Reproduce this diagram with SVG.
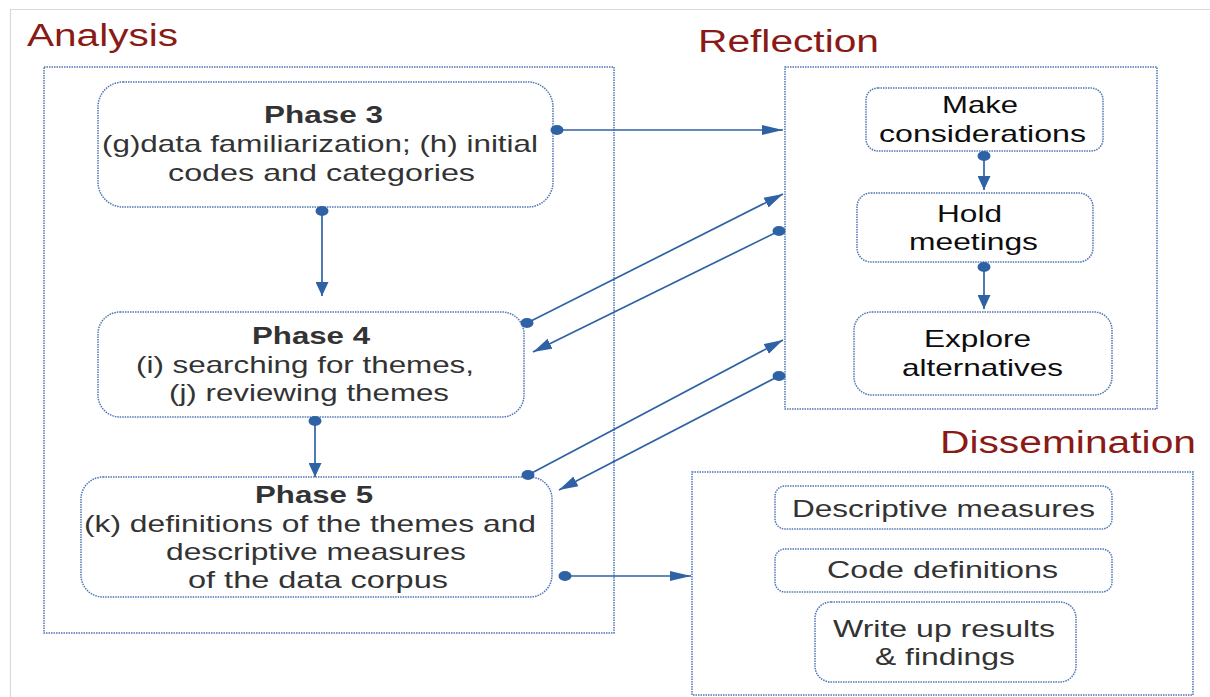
<svg xmlns="http://www.w3.org/2000/svg" width="1210" height="697" viewBox="0 0 1210 697">
<style>
.frame{stroke:#d9d9d9;stroke-width:1.2;fill:none}
.cont{fill:none;stroke:#4f76b4;stroke-width:1.5;stroke-dasharray:1.5 1}
.box{fill:#fff;stroke:#4f76b4;stroke-width:1.5;stroke-dasharray:1.5 1}
.title{font-family:"Liberation Sans",Arial,sans-serif;font-size:31px;fill:#8a1a16}
.t{font-family:"Liberation Sans",Arial,sans-serif;font-size:24px;fill:#333}
.tb{font-family:"Liberation Sans",Arial,sans-serif;font-size:24px;font-weight:bold;fill:#333}
.tk{font-family:"Liberation Sans",Arial,sans-serif;font-size:24px;fill:#0d0d0d}
.conn{stroke:#2f62a5;stroke-width:1.7;fill:none}
</style>
<defs>
<marker id="dot" markerUnits="userSpaceOnUse" markerWidth="14" markerHeight="11" refX="7" refY="5.5" viewBox="0 0 14 11"><ellipse cx="7" cy="5.5" rx="6.5" ry="5" fill="#2f62a5"/></marker>
<marker id="arrowH" markerUnits="userSpaceOnUse" markerWidth="21" markerHeight="11" refX="21" refY="5.5" viewBox="0 0 21 11" orient="auto"><path d="M0,0.5 L21,5.5 L0,10.5 Z" fill="#2f62a5"/></marker>
<marker id="arrowV" markerUnits="userSpaceOnUse" markerWidth="14" markerHeight="13" refX="14" refY="6.5" viewBox="0 0 14 13" orient="auto"><path d="M0,0 L14,6.5 L0,13 Z" fill="#2f62a5"/></marker>
<marker id="arrowD" markerUnits="userSpaceOnUse" markerWidth="19" markerHeight="12" refX="19" refY="6" viewBox="0 0 19 12" orient="auto"><path d="M0,0.5 L19,6 L0,11.5 Z" fill="#2f62a5"/></marker>
</defs>
<rect x="0" y="0" width="1210" height="697" fill="#fff"/>
<path class="frame" d="M10.5,697 L10.5,9.5 L1210,9.5"/>

<g id="analysis">
<rect class="cont" x="44" y="67" width="570" height="566"/>
<text class="title" x="27" y="46" textLength="151" lengthAdjust="spacingAndGlyphs">Analysis</text>
</g>
<g id="reflection">
<rect class="cont" x="785" y="67" width="372" height="342"/>
<text class="title" x="698" y="52" textLength="181" lengthAdjust="spacingAndGlyphs">Reflection</text>
</g>
<g id="dissemination">
<rect class="cont" x="692" y="472" width="501" height="223"/>
<text class="title" x="940" y="453" textLength="256" lengthAdjust="spacingAndGlyphs">Dissemination</text>
</g>

<g id="phase3">
<rect class="box" x="98" y="82" width="455" height="125" rx="25"/>
<text class="tb" x="264" y="123" textLength="119" lengthAdjust="spacingAndGlyphs">Phase 3</text>
<text class="t" x="102" y="152" textLength="436" lengthAdjust="spacingAndGlyphs">(g)data familiarization; (h) initial</text>
<text class="t" x="168" y="181" textLength="307" lengthAdjust="spacingAndGlyphs">codes and categories</text>
</g>
<g id="phase4">
<rect class="box" x="98" y="312" width="426" height="105" rx="22"/>
<text class="tb" x="252" y="344" textLength="118" lengthAdjust="spacingAndGlyphs">Phase 4</text>
<text class="t" x="136" y="373" textLength="338" lengthAdjust="spacingAndGlyphs">(i) searching for themes,</text>
<text class="t" x="169" y="401" textLength="280" lengthAdjust="spacingAndGlyphs">(j) reviewing themes</text>
</g>
<g id="phase5">
<rect class="box" x="81" y="477" width="471" height="120" rx="22"/>
<text class="tb" x="255" y="503" textLength="118" lengthAdjust="spacingAndGlyphs">Phase 5</text>
<text class="t" x="84" y="532" textLength="452" lengthAdjust="spacingAndGlyphs">(k) definitions of the themes and</text>
<text class="t" x="166" y="560" textLength="300" lengthAdjust="spacingAndGlyphs">descriptive measures</text>
<text class="t" x="188" y="588" textLength="260" lengthAdjust="spacingAndGlyphs">of the data corpus</text>
</g>

<g id="make">
<rect class="box" x="866" y="88" width="237" height="63" rx="12"/>
<text class="tk" x="942" y="113" textLength="76" lengthAdjust="spacingAndGlyphs">Make</text>
<text class="tk" x="879" y="142" textLength="207" lengthAdjust="spacingAndGlyphs">considerations</text>
</g>
<g id="hold">
<rect class="box" x="857" y="193" width="236" height="69" rx="14"/>
<text class="tk" x="937" y="222" textLength="65" lengthAdjust="spacingAndGlyphs">Hold</text>
<text class="tk" x="909" y="250" textLength="129" lengthAdjust="spacingAndGlyphs">meetings</text>
</g>
<g id="explore">
<rect class="box" x="854" y="312" width="258" height="83" rx="18"/>
<text class="tk" x="924" y="347" textLength="107" lengthAdjust="spacingAndGlyphs">Explore</text>
<text class="tk" x="902" y="376" textLength="161" lengthAdjust="spacingAndGlyphs">alternatives</text>
</g>

<g id="descriptive">
<rect class="box" x="775" y="486" width="337" height="43" rx="10"/>
<text class="t" x="792" y="517" textLength="303" lengthAdjust="spacingAndGlyphs">Descriptive measures</text>
</g>
<g id="code">
<rect class="box" x="775" y="549" width="337" height="43" rx="10"/>
<text class="t" x="827" y="578" textLength="231" lengthAdjust="spacingAndGlyphs">Code definitions</text>
</g>
<g id="writeup">
<rect class="box" x="815" y="602" width="261" height="80" rx="16"/>
<text class="t" x="833" y="637" textLength="222" lengthAdjust="spacingAndGlyphs">Write up results</text>
<text class="t" x="875" y="665" textLength="140" lengthAdjust="spacingAndGlyphs">&amp; findings</text>
</g>

<g id="connectors">
<line class="conn" x1="557" y1="130" x2="783" y2="130" marker-start="url(#dot)" marker-end="url(#arrowH)"/>
<line class="conn" x1="322" y1="211" x2="322" y2="296" marker-start="url(#dot)" marker-end="url(#arrowV)"/>
<line class="conn" x1="527" y1="323" x2="783" y2="194" marker-start="url(#dot)" marker-end="url(#arrowD)"/>
<line class="conn" x1="779" y1="231" x2="533" y2="352" marker-start="url(#dot)" marker-end="url(#arrowD)"/>
<line class="conn" x1="315" y1="421" x2="315" y2="477" marker-start="url(#dot)" marker-end="url(#arrowV)"/>
<line class="conn" x1="528" y1="475" x2="783" y2="340" marker-start="url(#dot)" marker-end="url(#arrowD)"/>
<line class="conn" x1="779" y1="376" x2="559" y2="490" marker-start="url(#dot)" marker-end="url(#arrowD)"/>
<line class="conn" x1="565" y1="576" x2="691" y2="576" marker-start="url(#dot)" marker-end="url(#arrowH)"/>
<line class="conn" x1="984" y1="156" x2="984" y2="190" marker-start="url(#dot)" marker-end="url(#arrowV)"/>
<line class="conn" x1="984" y1="267" x2="984" y2="309" marker-start="url(#dot)" marker-end="url(#arrowV)"/>
</g>
</svg>
